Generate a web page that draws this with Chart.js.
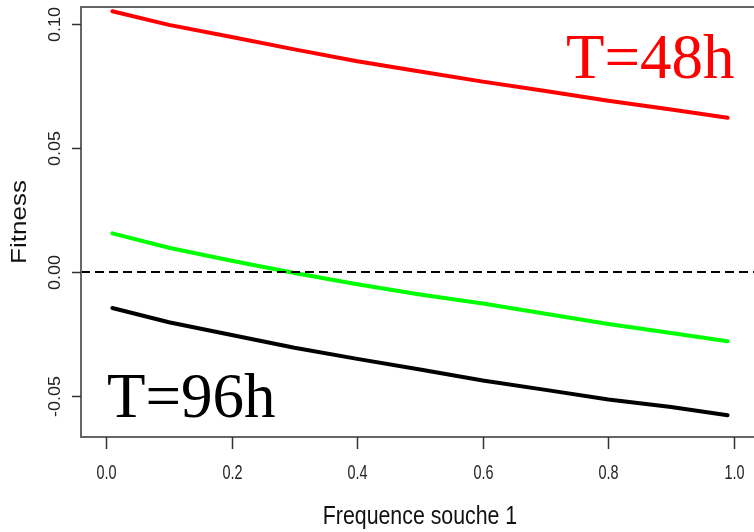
<!DOCTYPE html>
<html>
<head>
<meta charset="utf-8">
<script src="https://cdn.jsdelivr.net/npm/chart.js@4"></script>
<style>
  html, body { margin: 0; padding: 0; background: #fff; overflow: hidden; }
  #fitness-chart { display: block; }
</style>
</head>
<body>
<canvas id="fitness-chart" width="780" height="532"></canvas>
<script>
// frequency of strain 1 and fitness at each time point
const freq = [0.01, 0.1, 0.2, 0.3, 0.4, 0.5, 0.6, 0.7, 0.8, 0.9, 0.99];
const fitness48 = [0.1052, 0.0997, 0.0948, 0.0898, 0.0850, 0.0809, 0.0768, 0.0730, 0.0691, 0.0656, 0.0622];
const fitnessMid = [0.0156, 0.0098, 0.0046, -0.0004, -0.0049, -0.0090, -0.0127, -0.0168, -0.0209, -0.0246, -0.0279];
const fitness96 = [-0.0145, -0.0202, -0.0254, -0.0305, -0.0350, -0.0393, -0.0437, -0.0475, -0.0514, -0.0544, -0.0577];

// reference line at zero, across the whole plot
const zeroX = [-0.04, 1.04];
const zeroY = [0, 0];

const xTicks = [0.0, 0.2, 0.4, 0.6, 0.8, 1.0];
const yTicks = [0.10, 0.05, 0.00, -0.05];

const toPoints = (xs, ys) => xs.map((x, i) => ({ x: x, y: ys[i] }));

// R-style box, ticks and labels
const rAxes = {
    id: 'rAxes',
    afterDraw(chart) {
        const ctx = chart.ctx;
        const area = chart.chartArea;
        const xs = chart.scales.x;
        const ys = chart.scales.y;

        ctx.save();
        ctx.strokeStyle = '#666';
        ctx.lineWidth = 2;
        ctx.strokeRect(area.left, area.top, area.right - area.left, area.bottom - area.top);

        ctx.strokeStyle = '#333';
        ctx.lineWidth = 1.5;
        ctx.fillStyle = '#222';

        // x axis
        ctx.font = '20px "Liberation Sans", Arial, sans-serif';
        ctx.textAlign = 'center';
        ctx.textBaseline = 'alphabetic';
        xTicks.forEach(v => {
            const px = Math.round(xs.getPixelForValue(v)) + 0.5;
            ctx.beginPath();
            ctx.moveTo(px, area.bottom);
            ctx.lineTo(px, area.bottom + 12);
            ctx.stroke();
            ctx.save();
            ctx.translate(px, 479);
            ctx.scale(0.72, 1);
            ctx.fillText(v.toFixed(1), 0, 0);
            ctx.restore();
        });

        // y axis, labels turned upright along the axis
        ctx.font = '18px "Liberation Sans", Arial, sans-serif';
        yTicks.forEach(v => {
            const py = Math.round(ys.getPixelForValue(v)) + 0.5;
            ctx.beginPath();
            ctx.moveTo(area.left, py);
            ctx.lineTo(area.left - 9, py);
            ctx.stroke();
            ctx.save();
            ctx.translate(56, py);
            ctx.rotate(-Math.PI / 2);
            ctx.scale(1, 0.88);
            ctx.textBaseline = 'middle';
            ctx.fillText(v.toFixed(2), 0, 0);
            ctx.restore();
        });

        // axis titles
        ctx.fillStyle = '#111';
        ctx.font = '26px "Liberation Sans", Arial, sans-serif';
        ctx.save();
        ctx.translate(xs.getPixelForValue(0.5), 524);
        ctx.scale(0.82, 1);
        ctx.fillText('Frequence souche 1', 0, 0);
        ctx.restore();

        ctx.save();
        ctx.translate(20, (area.top + area.bottom) / 2);
        ctx.rotate(-Math.PI / 2);
        ctx.scale(1, 0.84);
        ctx.textBaseline = 'middle';
        ctx.fillText('Fitness', 0, 0);
        ctx.restore();

        // time labels
        ctx.font = '63px "Liberation Serif", "Times New Roman", serif';
        ctx.textAlign = 'left';
        ctx.textBaseline = 'alphabetic';
        ctx.fillStyle = '#ff0000';
        ctx.fillText('T=48h', 566, 78);
        ctx.fillStyle = '#000';
        ctx.fillText('T=96h', 107, 417);
        ctx.restore();
    }
};

new Chart(document.getElementById('fitness-chart'), {
    type: 'line',
    data: {
        datasets: [
            {
                data: toPoints(zeroX, zeroY),
                borderColor: '#000',
                borderWidth: 2,
                borderDash: [9, 5],
                pointRadius: 0
            },
            {
                data: toPoints(freq, fitness48),
                borderColor: '#ff0000',
                borderWidth: 4,
                borderCapStyle: 'round',
                pointRadius: 0
            },
            {
                data: toPoints(freq, fitnessMid),
                borderColor: '#00ff00',
                borderWidth: 4,
                borderCapStyle: 'round',
                pointRadius: 0
            },
            {
                data: toPoints(freq, fitness96),
                borderColor: '#000',
                borderWidth: 4,
                borderCapStyle: 'round',
                pointRadius: 0
            }
        ]
    },
    options: {
        responsive: false,
        devicePixelRatio: 1,
        animation: false,
        layout: { padding: { left: 81, top: 7, right: 21, bottom: 95 } },
        plugins: {
            legend: { display: false },
            tooltip: { enabled: false }
        },
        scales: {
            x: { type: 'linear', min: -0.04, max: 1.04, display: false },
            y: { type: 'linear', min: -0.0665, max: 0.1069, display: false }
        }
    },
    plugins: [rAxes]
});
</script>
</body>
</html>
